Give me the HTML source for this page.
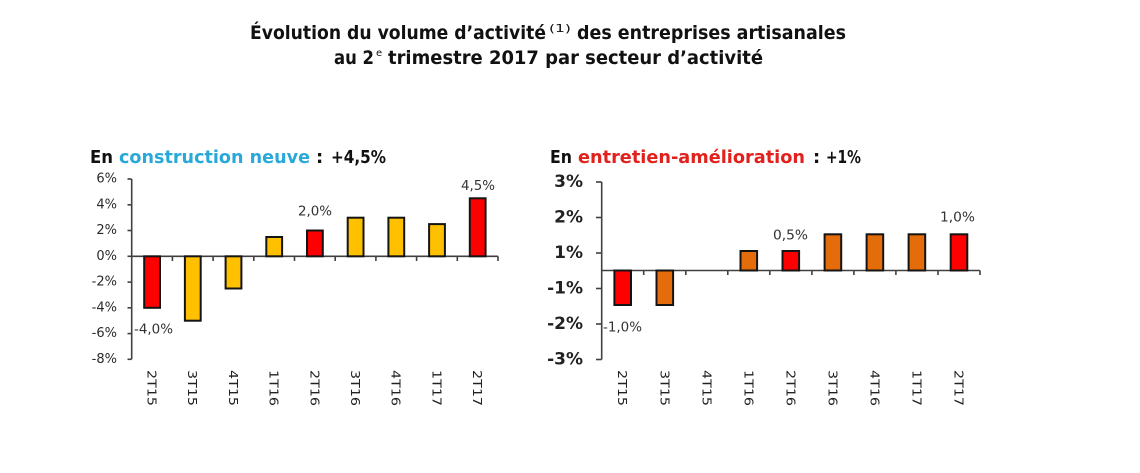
<!DOCTYPE html>
<html><head><meta charset="utf-8"><style>
html,body{margin:0;padding:0;background:#fff;}
svg{display:block;}
text{font-family:"DejaVu Sans","Liberation Sans",sans-serif;}
</style></head><body>
<svg width="1140" height="473" viewBox="0 0 1140 473" xmlns="http://www.w3.org/2000/svg">
<rect width="1140" height="473" fill="#fff"/>
<!-- Title -->
<g fill="#111" font-weight="bold">
<text x="250" y="39" font-size="19" textLength="296" lengthAdjust="spacingAndGlyphs">Évolution du volume d’activité</text>
<text x="549" y="32" font-size="11" font-weight="normal" textLength="22" lengthAdjust="spacingAndGlyphs">(1)</text>
<text x="577" y="39" font-size="19" textLength="269" lengthAdjust="spacingAndGlyphs">des entreprises artisanales</text>
<text x="334" y="64" font-size="19" textLength="40" lengthAdjust="spacingAndGlyphs">au 2</text>
<text x="376" y="56" font-size="10" font-weight="normal">e</text>
<text x="388" y="64" font-size="19" textLength="375" lengthAdjust="spacingAndGlyphs">trimestre 2017 par secteur d’activité</text>
</g>
<!-- Subtitles -->
<g font-weight="bold" font-size="18">
<text x="90" y="163" fill="#111" textLength="23" lengthAdjust="spacingAndGlyphs">En</text>
<text x="119" y="163" fill="#29a9d9" textLength="191" lengthAdjust="spacingAndGlyphs">construction neuve</text>
<text x="316" y="163" fill="#111">:</text>
<text x="331" y="163" fill="#111" textLength="55" lengthAdjust="spacingAndGlyphs">+4,5%</text>
<text x="550" y="163" fill="#111" textLength="22" lengthAdjust="spacingAndGlyphs">En</text>
<text x="578" y="163" fill="#e2201c" textLength="227" lengthAdjust="spacingAndGlyphs">entretien-amélioration</text>
<text x="813" y="163" fill="#111">:</text>
<text x="826" y="163" fill="#111" textLength="35" lengthAdjust="spacingAndGlyphs">+1%</text>
</g>

<!-- LEFT CHART -->
<g stroke="#404040" stroke-width="1.6" fill="none">
<line x1="131.7" y1="179" x2="131.7" y2="359.3"/>
<line x1="127.5" y1="179" x2="131.7" y2="179"/>
<line x1="127.5" y1="204.8" x2="131.7" y2="204.8"/>
<line x1="127.5" y1="230.5" x2="131.7" y2="230.5"/>
<line x1="127.5" y1="256.3" x2="131.7" y2="256.3"/>
<line x1="127.5" y1="282.1" x2="131.7" y2="282.1"/>
<line x1="127.5" y1="307.8" x2="131.7" y2="307.8"/>
<line x1="127.5" y1="333.6" x2="131.7" y2="333.6"/>
<line x1="127.5" y1="359.3" x2="131.7" y2="359.3"/>
<line x1="131.7" y1="256.3" x2="498" y2="256.3"/>
<line x1="172.4" y1="256.3" x2="172.4" y2="261"/>
<line x1="213.1" y1="256.3" x2="213.1" y2="261"/>
<line x1="253.8" y1="256.3" x2="253.8" y2="261"/>
<line x1="294.5" y1="256.3" x2="294.5" y2="261"/>
<line x1="335.2" y1="256.3" x2="335.2" y2="261"/>
<line x1="375.9" y1="256.3" x2="375.9" y2="261"/>
<line x1="416.6" y1="256.3" x2="416.6" y2="261"/>
<line x1="457.3" y1="256.3" x2="457.3" y2="261"/>
<line x1="498" y1="256.3" x2="498" y2="261"/>
</g>
<g font-size="13" fill="#2a2a2a" text-anchor="end" dominant-baseline="central">
<text x="117" y="179">6%</text>
<text x="117" y="204.8">4%</text>
<text x="117" y="230.5">2%</text>
<text x="117" y="256.3">0%</text>
<text x="117" y="282.1">-2%</text>
<text x="117" y="307.8">-4%</text>
<text x="117" y="333.6">-6%</text>
<text x="117" y="359.3">-8%</text>
</g>
<g stroke="#141414" stroke-width="2">
<rect x="144.2" y="256.3" width="15.8" height="51.5" fill="#ff0000"/>
<rect x="184.9" y="256.3" width="15.8" height="64.4" fill="#ffc000"/>
<rect x="225.6" y="256.3" width="15.8" height="32.2" fill="#ffc000"/>
<rect x="266.3" y="237" width="15.8" height="19.3" fill="#ffc000"/>
<rect x="307" y="230.5" width="15.8" height="25.8" fill="#ff0000"/>
<rect x="347.7" y="217.7" width="15.8" height="38.6" fill="#ffc000"/>
<rect x="388.4" y="217.7" width="15.8" height="38.6" fill="#ffc000"/>
<rect x="429.1" y="224.1" width="15.8" height="32.2" fill="#ffc000"/>
<rect x="469.8" y="198.3" width="15.8" height="58" fill="#ff0000"/>
</g>
<g font-size="13" fill="#333" dominant-baseline="central">
<text x="134" y="330" textLength="39" lengthAdjust="spacingAndGlyphs">-4,0%</text>
<text x="298" y="212" textLength="34" lengthAdjust="spacingAndGlyphs">2,0%</text>
<text x="461" y="186.5" textLength="34" lengthAdjust="spacingAndGlyphs">4,5%</text>
</g>
<g font-size="12.5" fill="#222" dominant-baseline="central">
<text transform="translate(152,370) rotate(90)" textLength="36" lengthAdjust="spacingAndGlyphs">2T15</text>
<text transform="translate(192.7,370) rotate(90)" textLength="36" lengthAdjust="spacingAndGlyphs">3T15</text>
<text transform="translate(233.4,370) rotate(90)" textLength="36" lengthAdjust="spacingAndGlyphs">4T15</text>
<text transform="translate(274.1,370) rotate(90)" textLength="36" lengthAdjust="spacingAndGlyphs">1T16</text>
<text transform="translate(314.8,370) rotate(90)" textLength="36" lengthAdjust="spacingAndGlyphs">2T16</text>
<text transform="translate(355.5,370) rotate(90)" textLength="36" lengthAdjust="spacingAndGlyphs">3T16</text>
<text transform="translate(396.2,370) rotate(90)" textLength="36" lengthAdjust="spacingAndGlyphs">4T16</text>
<text transform="translate(436.9,370) rotate(90)" textLength="36" lengthAdjust="spacingAndGlyphs">1T17</text>
<text transform="translate(477.6,370) rotate(90)" textLength="36" lengthAdjust="spacingAndGlyphs">2T17</text>
</g>

<!-- RIGHT CHART -->
<g stroke="#404040" stroke-width="1.6" fill="none">
<line x1="601.7" y1="182" x2="601.7" y2="359.5"/>
<line x1="596" y1="182" x2="601.7" y2="182"/>
<line x1="596" y1="217.5" x2="601.7" y2="217.5"/>
<line x1="596" y1="253" x2="601.7" y2="253"/>
<line x1="596" y1="288.5" x2="601.7" y2="288.5"/>
<line x1="596" y1="324" x2="601.7" y2="324"/>
<line x1="596" y1="359.5" x2="601.7" y2="359.5"/>
<line x1="601.7" y1="270.5" x2="980" y2="270.5"/>
<line x1="643.7" y1="270.5" x2="643.7" y2="275"/>
<line x1="685.8" y1="270.5" x2="685.8" y2="275"/>
<line x1="727.8" y1="270.5" x2="727.8" y2="275"/>
<line x1="769.8" y1="270.5" x2="769.8" y2="275"/>
<line x1="811.9" y1="270.5" x2="811.9" y2="275"/>
<line x1="853.9" y1="270.5" x2="853.9" y2="275"/>
<line x1="895.9" y1="270.5" x2="895.9" y2="275"/>
<line x1="938" y1="270.5" x2="938" y2="275"/>
<line x1="980" y1="270.5" x2="980" y2="275"/>
</g>
<g font-size="17" font-weight="bold" fill="#222" text-anchor="end" dominant-baseline="central">
<text x="583" y="182">3%</text>
<text x="583" y="217.5">2%</text>
<text x="583" y="253">1%</text>
<text x="583" y="288.5">-1%</text>
<text x="583" y="324">-2%</text>
<text x="583" y="359.5">-3%</text>
</g>
<g stroke="#141414" stroke-width="2">
<rect x="614.4" y="270.5" width="16.6" height="34.5" fill="#ff0000"/>
<rect x="656.5" y="270.5" width="16.6" height="34.5" fill="#e46c0a"/>
<rect x="740.5" y="251" width="16.6" height="19.5" fill="#e46c0a"/>
<rect x="782.5" y="251" width="16.6" height="19.5" fill="#ff0000"/>
<rect x="824.6" y="234.3" width="16.6" height="36.2" fill="#e46c0a"/>
<rect x="866.6" y="234.3" width="16.6" height="36.2" fill="#e46c0a"/>
<rect x="908.6" y="234.3" width="16.6" height="36.2" fill="#e46c0a"/>
<rect x="950.7" y="234.3" width="16.6" height="36.2" fill="#ff0000"/>
</g>
<g font-size="13" fill="#333" dominant-baseline="central">
<text x="603" y="328" textLength="39" lengthAdjust="spacingAndGlyphs">-1,0%</text>
<text x="773" y="236" textLength="35" lengthAdjust="spacingAndGlyphs">0,5%</text>
<text x="940" y="218" textLength="35" lengthAdjust="spacingAndGlyphs">1,0%</text>
</g>
<g font-size="12.5" fill="#222" dominant-baseline="central">
<text transform="translate(622.7,370) rotate(90)" textLength="36" lengthAdjust="spacingAndGlyphs">2T15</text>
<text transform="translate(664.8,370) rotate(90)" textLength="36" lengthAdjust="spacingAndGlyphs">3T15</text>
<text transform="translate(706.8,370) rotate(90)" textLength="36" lengthAdjust="spacingAndGlyphs">4T15</text>
<text transform="translate(748.8,370) rotate(90)" textLength="36" lengthAdjust="spacingAndGlyphs">1T16</text>
<text transform="translate(790.8,370) rotate(90)" textLength="36" lengthAdjust="spacingAndGlyphs">2T16</text>
<text transform="translate(832.9,370) rotate(90)" textLength="36" lengthAdjust="spacingAndGlyphs">3T16</text>
<text transform="translate(874.9,370) rotate(90)" textLength="36" lengthAdjust="spacingAndGlyphs">4T16</text>
<text transform="translate(916.9,370) rotate(90)" textLength="36" lengthAdjust="spacingAndGlyphs">1T17</text>
<text transform="translate(959,370) rotate(90)" textLength="36" lengthAdjust="spacingAndGlyphs">2T17</text>
</g>
</svg>
</body></html>
